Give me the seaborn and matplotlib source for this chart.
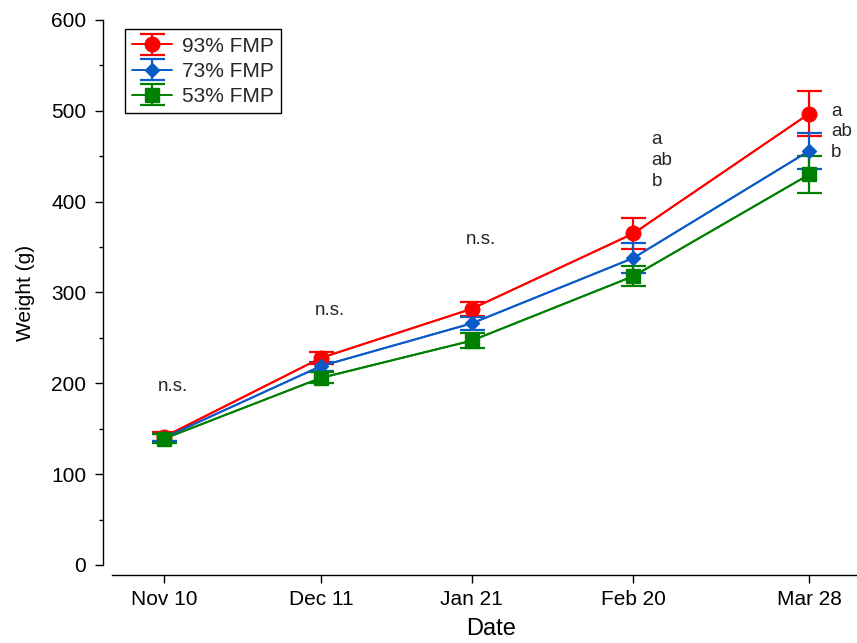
import matplotlib
matplotlib.use("Agg")
import matplotlib.pyplot as plt
from matplotlib.ticker import MultipleLocator
import seaborn as sns
import pandas as pd

# ---- data ----
dates = ["Nov 10", "Dec 11", "Jan 21", "Feb 20", "Mar 28"]
x_pos = [0.0, 1.0, 1.96, 2.99, 4.11]
groups = ["93% FMP", "73% FMP", "53% FMP"]
mean_93 = [141, 228, 282, 365, 497]
err_93 = [5, 7, 8, 17, 25]
mean_73 = [140, 219, 266, 338, 456]
err_73 = [4, 5, 7, 17, 20]
mean_53 = [139, 206, 247, 318, 430]
err_53 = [5, 6, 8, 11, 20]
ns_labels = ["n.s.", "n.s.", "n.s."]
ns_y = [197, 280, 358]
feb_letters = ["a", "ab", "b"]
feb_y = [468, 445, 422]
mar_letters = ["a", "ab", "b"]
mar_y = [499, 477, 454]

colors = {"93% FMP": "#FF0000", "73% FMP": "#0A5AC8", "53% FMP": "#008000"}
markers = {"93% FMP": "o", "73% FMP": "D", "53% FMP": "s"}
msizes = {"93% FMP": 10.5, "73% FMP": 7, "53% FMP": 9.5}

means = {"93% FMP": mean_93, "73% FMP": mean_73, "53% FMP": mean_53}
errs = {"93% FMP": err_93, "73% FMP": err_73, "53% FMP": err_53}

rows = []
for g in groups:
    for xp, m, e in zip(x_pos, means[g], errs[g]):
        rows.append({"x": xp, "weight": m, "err": e, "group": g})
df = pd.DataFrame(rows)

sns.set_theme(style="ticks")
plt.rcParams["font.family"] = ["Liberation Sans", "DejaVu Sans"]

fig = plt.figure(figsize=(8.57, 6.43), dpi=100)
ax = fig.add_axes([112 / 857, 1 - 565 / 643, 1 - 112 / 857, (565 - 20) / 643])

sns.lineplot(data=df, x="x", y="weight", hue="group", palette=colors,
             hue_order=groups, linewidth=1.4, legend=False, ax=ax, zorder=2)

handles = []
for g in groups:
    sub = df[df["group"] == g]
    h = ax.errorbar(sub["x"], sub["weight"], yerr=sub["err"], fmt=markers[g],
                    color=colors[g], ms=msizes[g], capsize=9, capthick=1.6,
                    elinewidth=1.6, linestyle="-", linewidth=1.4, label=g,
                    zorder=3)
    handles.append(h)

# annotations
for xp, lab, yy in zip(x_pos[:3], ns_labels, ns_y):
    ax.text(xp + 0.06, yy, lab, ha="center", va="center", fontsize=13.5)
for lab, yy in zip(feb_letters, feb_y):
    ax.text(x_pos[3] + 0.115, yy, lab, ha="left", va="center", fontsize=13.5)
for lab, yy in zip(mar_letters, mar_y):
    ax.text(x_pos[4] + 0.14, yy, lab, ha="left", va="center", fontsize=13.5)

ax.set_xlim(-0.331, 4.414)
ax.set_ylim(0, 600)
ax.set_xticks(x_pos)
ax.set_xticklabels(dates)
ax.yaxis.set_major_locator(MultipleLocator(100))
ax.yaxis.set_minor_locator(MultipleLocator(50))

for s in ["top", "right"]:
    ax.spines[s].set_visible(False)
ax.spines["left"].set_position(("outward", 6.5))
ax.spines["bottom"].set_position(("outward", 7.2))
for s in ["left", "bottom"]:
    ax.spines[s].set_linewidth(1.0)
    ax.spines[s].set_color("black")

ax.tick_params(axis="both", which="major", length=6, width=1.0, color="black",
               labelsize=15, labelcolor="black")
ax.tick_params(axis="y", which="minor", length=3, width=1.0, color="black")
ax.tick_params(axis="y", which="major", pad=6)
ax.tick_params(axis="x", which="major", pad=5)

ax.set_xlabel("Date", fontsize=17, color="black")
ax.set_ylabel("Weight (g)", fontsize=15, labelpad=12, color="black")
# place x label so it sits fully inside the figure, slightly right of centre
ax.xaxis.set_label_coords(0.509, -0.098)
ax.xaxis.label.set_va("top")

leg = ax.legend(handles=handles, labels=groups, loc="upper left",
                bbox_to_anchor=(0.017, 0.983), fontsize=15, frameon=True,
                fancybox=False, edgecolor="black", framealpha=1,
                handlelength=1.9, handletextpad=0.5, borderpad=0.35,
                labelspacing=0.3, borderaxespad=0)
leg.get_frame().set_linewidth(1.0)

fig.savefig("out.png", dpi=100)
